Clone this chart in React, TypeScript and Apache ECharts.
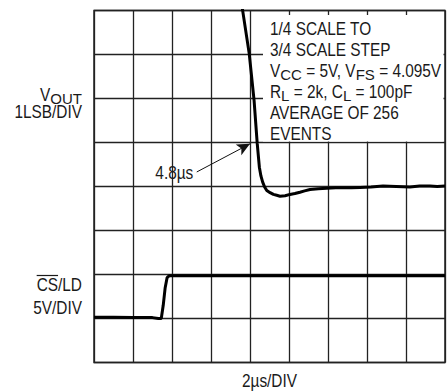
import React, { useEffect, useRef } from "react";
import * as echarts from "echarts";

// VOUT trace (time in µs, level in divisions from the bottom of the screen)
const voutTimeUs = [7.52, 7.63, 7.96, 8.21, 8.37, 8.48, 8.56, 8.65, 8.75, 8.86, 9.03, 9.2, 9.37, 9.54, 9.8, 10.05, 10.3, 10.56, 10.8, 11.08, 11.5, 11.93, 12.4, 12.78, 13.2, 13.64, 14.2, 14.82, 15.5, 16.2, 16.7, 17.23, 17.6, 18.0];
const voutDiv = [8.3, 7.98, 7.02, 5.95, 4.98, 4.44, 4.24, 4.1, 3.99, 3.91, 3.86, 3.82, 3.8, 3.78, 3.79, 3.82, 3.84, 3.87, 3.9, 3.93, 3.95, 3.96, 3.97, 3.97, 3.97, 3.98, 3.99, 4.01, 4.0, 3.99, 4.01, 4.01, 4.0, 4.01];

// CS/LD trace
const csTimeUs = [0, 1.0, 2.0, 3.0, 3.3, 3.45, 3.55, 3.65, 3.75, 3.85, 5.0, 10.0, 18.0];
const csDiv = [1.03, 1.03, 1.02, 1.02, 1.0, 1.0, 1.3, 1.7, 1.93, 1.97, 1.97, 1.97, 1.97];

// Arrow pointing at the settling edge (time µs, divisions)
const arrowTail = [5.27, 4.33];
const arrowHead = [8.0, 4.97];

const xTicksUs = { min: 0, max: 18, interval: 2 };
const yTicksDiv = { min: 0, max: 8, interval: 1 };

const boxLines = [
  "1/4 SCALE TO",
  "3/4 SCALE STEP",
  "V{sub|CC} = 5V, V{sub|FS} = 4.095V",
  "R{sub|L} = 2k, C{sub|L} = 100pF",
  "AVERAGE OF 256",
  "EVENTS",
];

const FONT = "'Liberation Sans', Arial, sans-serif";
const INK = "#1a1a1a";
const FS = 19;
const SQUEEZE = 0.81; // condensed lettering
const SUB_FS = 15;
const SUB_DROP = 4.3;

let measureCtx: CanvasRenderingContext2D | null = null;
function textWidth(text: string, size: number) {
  if (!measureCtx) measureCtx = document.createElement("canvas").getContext("2d");
  if (!measureCtx) return text.length * size * 0.55;
  measureCtx.font = `${size}px ${FONT}`;
  return measureCtx.measureText(text).width;
}

type Piece = { text: string; sub: boolean };
function parse(line: string): Piece[] {
  const out: Piece[] = [];
  const re = /\{sub\|([^}]*)\}/g;
  let last = 0;
  let m: RegExpExecArray | null;
  while ((m = re.exec(line))) {
    if (m.index > last) out.push({ text: line.slice(last, m.index), sub: false });
    out.push({ text: m[1], sub: true });
    last = m.index + m[0].length;
  }
  if (last < line.length) out.push({ text: line.slice(last), sub: false });
  return out;
}

const pieceWidth = (p: Piece) => (p.sub ? textWidth(p.text, SUB_FS) : textWidth(p.text, FS) * SQUEEZE);

// One label line made of main-size pieces and subscripts, laid out left to right.
function label(line: string, x: number, y: number, align: "left" | "right" | "center") {
  const pieces = parse(line);
  const total = pieces.reduce((s, p) => s + pieceWidth(p), 0);
  let cx = align === "left" ? x : align === "right" ? x - total : x - total / 2;
  return pieces.map((p) => {
    const el = {
      type: "text",
      x: cx,
      y: p.sub ? y + SUB_DROP : y,
      scaleX: p.sub ? 1 : SQUEEZE,
      z: 4,
      style: {
        text: p.text,
        fontFamily: FONT,
        fontSize: p.sub ? SUB_FS : FS,
        fill: INK,
        align: "left",
        verticalAlign: "middle",
      },
    };
    cx += pieceWidth(p);
    return el;
  });
}

export default function App() {
  const ref = useRef<HTMLDivElement>(null);

  useEffect(() => {
    if (!ref.current) return;
    const chart = echarts.init(ref.current, undefined, { renderer: "svg" });

    const vout = voutTimeUs.map((t, i) => [t, voutDiv[i]]);
    const cs = csTimeUs.map((t, i) => [t, csDiv[i]]);

    const axisCommon = {
      type: "value" as const,
      axisLabel: { show: false },
      axisTick: { show: false },
      axisLine: { show: false },
      splitLine: { show: true, lineStyle: { color: "#222", width: 1.3 } },
    };

    const boxTexts = boxLines.flatMap((line, i) => label(line, 270, 28.5 + i * 21, "left"));

    // overline above "CS" of the right-aligned "CS/LD" label
    const csRight = 82;
    const csStart = csRight - textWidth("CS/LD", FS) * SQUEEZE;
    const csBarEnd = csStart + textWidth("CS", FS) * SQUEEZE;

    chart.setOption({
      animation: false,
      backgroundColor: "#fff",
      grid: {
        left: 94,
        top: 10.5,
        width: 351,
        height: 352,
        show: true,
        borderColor: "#222",
        borderWidth: 1.5,
      },
      xAxis: { ...axisCommon, ...xTicksUs },
      yAxis: { ...axisCommon, ...yTicksDiv },
      series: [
        {
          type: "line",
          data: vout,
          showSymbol: false,
          clip: true,
          z: 5,
          lineStyle: { color: "#000", width: 3 },
          markLine: {
            silent: true,
            symbol: ["none", "arrow"],
            symbolSize: [9, 13],
            label: { show: false },
            lineStyle: { color: "#111", width: 1, type: "solid" },
            data: [[{ coord: arrowTail }, { coord: arrowHead }]],
          },
        },
        {
          type: "line",
          data: cs,
          showSymbol: false,
          z: 5,
          lineStyle: { color: "#000", width: 3 },
        },
      ],
      graphic: [
        {
          type: "rect",
          z: 1,
          shape: { x: 263, y: 15, width: 180.5, height: 126.5 },
          style: { fill: "#fff" },
        },
        ...boxTexts,
        ...label("4.8µs", 193.3, 172.5, "right"),
        ...label("V{sub|OUT}", 82, 94.5, "right"),
        ...label("1LSB/DIV", 82, 111.5, "right"),
        ...label("CS/LD", csRight, 284.5, "right"),
        {
          type: "line",
          z: 4,
          shape: { x1: csStart, y1: 275.5, x2: csBarEnd, y2: 275.5 },
          style: { stroke: INK, lineWidth: 1.2 },
        },
        ...label("5V/DIV", 82, 307, "right"),
        ...label("2µs/DIV", 269.5, 380, "center"),
      ],
    });

    return () => chart.dispose();
  }, []);

  return (
    <div
      ref={ref}
      style={{ position: "fixed", left: 0, top: 0, width: 447, height: 392 }}
    />
  );
}
